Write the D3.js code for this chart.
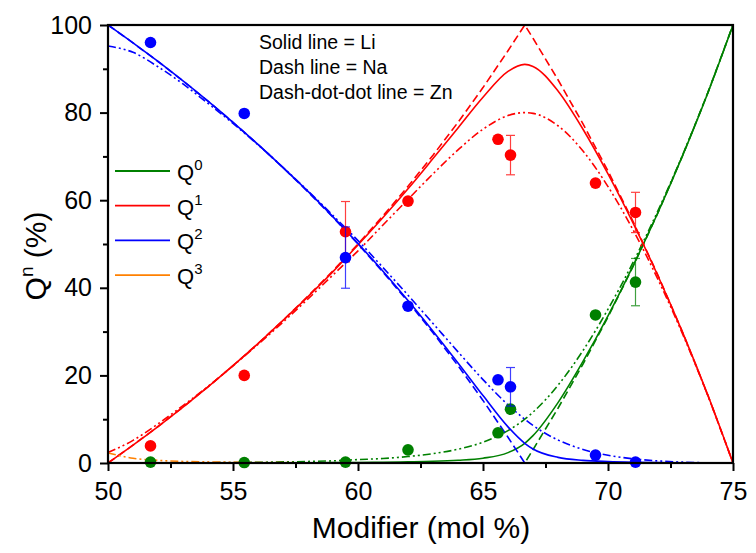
<!DOCTYPE html>
<html lang="en">
<head>
<meta charset="UTF-8">
<title>Qn distribution</title>
<script src="https://d3js.org/d3.v7.min.js"></script>
<style>
  body { margin: 0; background: #fff; }
  svg { display: block; font-family: "Liberation Sans", Arial, sans-serif; }
</style>
</head>
<body>
<svg width="756" height="553"></svg>
<script>
// model curves on a common grid of modifier content
const xGrid = [50,51,52,53,54,55,56,57,58,59,60,61,62,63,64,65,66,66.67,67,68,69,70,71,72,73,74,75];

// Li (solid)
const q0Li = [0,0,0,0,0,0,0,0,0.06,0.08,0.12,0.18,0.27,0.39,0.63,1.1,2.37,4.5,6.24,13.78,23.2,33.6,45.0,57.2,70.4,84.6,100];
const q1Li = [0,4.08,8.33,12.77,17.39,22.22,27.27,32.56,38.0,43.7,49.8,56.05,62.6,69.5,76.5,83.5,89.4,91,90.55,84.94,76.2,66.0,54.8,42.7,29.6,15.4,0];
const q2Li = [100,95.92,91.67,87.23,82.61,77.78,72.73,67.44,62.0,56.2,50.1,43.8,37.1,30.1,22.85,15.4,8.25,4.5,3.2,1.28,0.61,0.33,0.17,0.08,0.03,0,0];
const q3Li = [0,0,0,0,0,0,0,0,0,0,0,0,0,0,0,0,0,0,0,0,0,0,0,0,0,0,0];

// Na (dash)
const q0Na = [0,0,0,0,0,0,0,0,0,0,0,0,0,0,0,0,0,0,3.03,12.5,22.58,33.33,44.83,57.14,70.37,84.62,100];
const q1Na = [0,4.08,8.33,12.77,17.39,22.22,27.27,32.56,38.1,43.9,50,56.41,63.16,70.27,77.78,85.71,94.12,100,96.97,87.5,77.42,66.67,55.17,42.86,29.63,15.38,0];
const q2Na = [100,95.92,91.67,87.23,82.61,77.78,72.73,67.44,61.9,56.1,50,43.59,36.84,29.73,22.22,14.29,5.88,0,0,0,0,0,0,0,0,0,0];
const q3Na = [0,0,0,0,0,0,0,0,0,0,0,0,0,0,0,0,0,0,0,0,0,0,0,0,0,0,0];

// Zn (dash-dot-dot)
const q0Zn = [0,0,0,0.03,0.06,0.1,0.16,0.25,0.35,0.5,0.78,1.03,1.48,2.13,3.15,4.75,7.4,10,11.6,17.75,25.67,35.11,45.79,57.62,70.56,84.66,100];
const q1Zn = [2.4,5.16,8.93,13.1,17.5,22.19,27.07,32.16,37.46,42.94,48.44,54.34,60.2,66.01,71.48,76.21,79.32,80,79.83,77.0,71.24,63.11,53.25,41.9,29.24,15.3,0];
const q2Zn = [95.2,93.76,90.47,86.54,82.1,77.54,72.65,67.5,62.12,56.51,50.78,44.62,38.32,31.86,25.37,19.04,13.28,10,8.57,5.25,3.09,1.78,0.96,0.48,0.19,0.04,0];
const q3Zn = [2.3,1.08,0.6,0.35,0.25,0.17,0.12,0.09,0.06,0.05,0.03,0.02,0.01,0,0,0,0,0,0,0,0,0,0,0,0,0,0];

// measured points
const xMeas = [51.7,55.45,59.5,62,65.6,66.1,69.5,71.1];
const q0Meas = [0.2,0.1,0.2,3,6.9,12.3,33.8,41.3];
const q1Meas = [3.9,20,52.8,59.8,73.9,70.3,63.9,57.2];
const q2Meas = [96,79.8,46.9,35.8,19,17.4,1.8,0.2];
const q0Err = [0,0,0,0,0,0,0,5.4];
const q1Err = [0,0,6.9,0,0,4.5,0,4.6];
const q2Err = [0,0,7,0,0,4.4,0,0];

const xMajor = [50,55,60,65,70,75];
const xMinor = [52.5,57.5,62.5,67.5,72.5];
const yMajor = [0,20,40,60,80,100];
const yMinor = [10,30,50,70,90];

const legendNames = ["0","1","2","3"];
const notes = ["Solid line = Li", "Dash line = Na", "Dash-dot-dot line = Zn"];

const colors = {q0: "#008000", q1: "#ff0000", q2: "#0000ff", q3: "#ff8000"};
const dash = {li: null, na: "8,4", zn: "8,3,2,3,2,3"};

const svg = d3.select("svg");
const x = d3.scaleLinear().domain([50,75]).range([108,733]);
const y = d3.scaleLinear().domain([0,100]).range([463,25]);

const line = (curve) => d3.line()
    .x(d => x(d[0]))
    .y(d => y(d[1]))
    .curve(curve);

function drawCurve(vals, col, da, curve) {
    svg.append("path")
        .datum(xGrid.map((v, i) => [v, vals[i]]))
        .attr("fill", "none")
        .attr("stroke", col)
        .attr("stroke-width", 1.6)
        .attr("stroke-dasharray", da)
        .attr("d", line(curve));
}

const smooth = d3.curveMonotoneX, straight = d3.curveLinear;

// drawing order roughly as in the figure
drawCurve(q3Li, colors.q3, dash.li, smooth);
drawCurve(q0Li, colors.q0, dash.li, smooth);
drawCurve(q0Na, colors.q0, dash.na, straight);
drawCurve(q0Zn, colors.q0, dash.zn, smooth);
drawCurve(q1Li, colors.q1, dash.li, smooth);
drawCurve(q1Na, colors.q1, dash.na, straight);
drawCurve(q1Zn, colors.q1, dash.zn, smooth);
drawCurve(q3Na, colors.q3, dash.na, straight);
drawCurve(q3Zn, colors.q3, dash.zn, smooth);
drawCurve(q2Li, colors.q2, dash.li, smooth);
drawCurve(q2Na, colors.q2, dash.na, straight);
drawCurve(q2Zn, colors.q2, dash.zn, smooth);

// error bars + points
function drawPoints(vals, errs, col) {
    const g = svg.append("g");
    xMeas.forEach((xv, i) => {
        const e = errs[i];
        if (e > 0) {
            const eg = g.append("g").attr("stroke", col).attr("stroke-width", 1.2).attr("opacity", 0.75);
            eg.append("line").attr("x1", x(xv)).attr("x2", x(xv)).attr("y1", y(vals[i] - e)).attr("y2", y(vals[i] + e));
            eg.append("line").attr("x1", x(xv) - 4.5).attr("x2", x(xv) + 4.5).attr("y1", y(vals[i] - e)).attr("y2", y(vals[i] - e));
            eg.append("line").attr("x1", x(xv) - 4.5).attr("x2", x(xv) + 4.5).attr("y1", y(vals[i] + e)).attr("y2", y(vals[i] + e));
        }
    });
    g.selectAll("circle")
        .data(xMeas.map((v, i) => [v, vals[i]]))
        .join("circle")
        .attr("cx", d => x(d[0]))
        .attr("cy", d => y(d[1]))
        .attr("r", 5.8)
        .attr("fill", col);
}
drawPoints(q0Meas, q0Err, colors.q0);
drawPoints(q1Meas, q1Err, colors.q1);
drawPoints(q2Meas, q2Err, colors.q2);

// axes
const xAxis = svg.append("g").attr("transform", "translate(0,463)")
    .call(d3.axisBottom(x).tickValues(xMajor).tickSize(8).tickPadding(11).tickFormat(d3.format("d")));
svg.append("g").attr("transform", "translate(0,463)")
    .call(d3.axisBottom(x).tickValues(xMinor).tickSize(5).tickFormat(""));
const yAxis = svg.append("g").attr("transform", "translate(108,0)")
    .call(d3.axisLeft(y).tickValues(yMajor).tickSize(8).tickPadding(8));
svg.append("g").attr("transform", "translate(108,0)")
    .call(d3.axisLeft(y).tickValues(yMinor).tickSize(5).tickFormat(""));

svg.selectAll(".domain").remove();
svg.selectAll(".tick line").attr("stroke", "#000").attr("stroke-width", 2);
svg.selectAll(".tick text")
    .attr("fill", "#000")
    .style("font-family", "'Liberation Sans', Arial, sans-serif")
    .style("font-size", "25px");

svg.append("rect")
    .attr("x", 108).attr("y", 25)
    .attr("width", 625).attr("height", 438)
    .attr("fill", "none")
    .attr("stroke", "#000")
    .attr("stroke-width", 2.2);

// axis titles
svg.append("text")
    .attr("x", 421).attr("y", 538)
    .attr("text-anchor", "middle")
    .style("font-size", "30px")
    .text("Modifier (mol %)");

const yt = svg.append("text")
    .attr("transform", "translate(46,256) rotate(-90)")
    .attr("text-anchor", "middle")
    .style("font-size", "30px");
yt.append("tspan").text("Q");
yt.append("tspan").attr("dy", -13).style("font-size", "19px").text("n");
yt.append("tspan").attr("dy", 13).text(" (%)");

// legend
const leg = svg.append("g");
[colors.q0, colors.q1, colors.q2, colors.q3].forEach((c, i) => {
    const ly = 171 + i * 34.7;
    leg.append("line")
        .attr("x1", 115).attr("x2", 170)
        .attr("y1", ly).attr("y2", ly)
        .attr("stroke", c).attr("stroke-width", 1.8);
    const t = leg.append("text")
        .attr("x", 177).attr("y", ly + 9)
        .style("font-size", "22px");
    t.append("tspan").text("Q");
    t.append("tspan").attr("dy", -10).style("font-size", "15px").text(legendNames[i]);
});

// notes
svg.append("g").selectAll("text")
    .data(notes)
    .join("text")
    .attr("x", 259)
    .attr("y", (d, i) => 49 + i * 25)
    .style("font-size", "19.5px")
    .text(d => d);
</script>
</body>
</html>
